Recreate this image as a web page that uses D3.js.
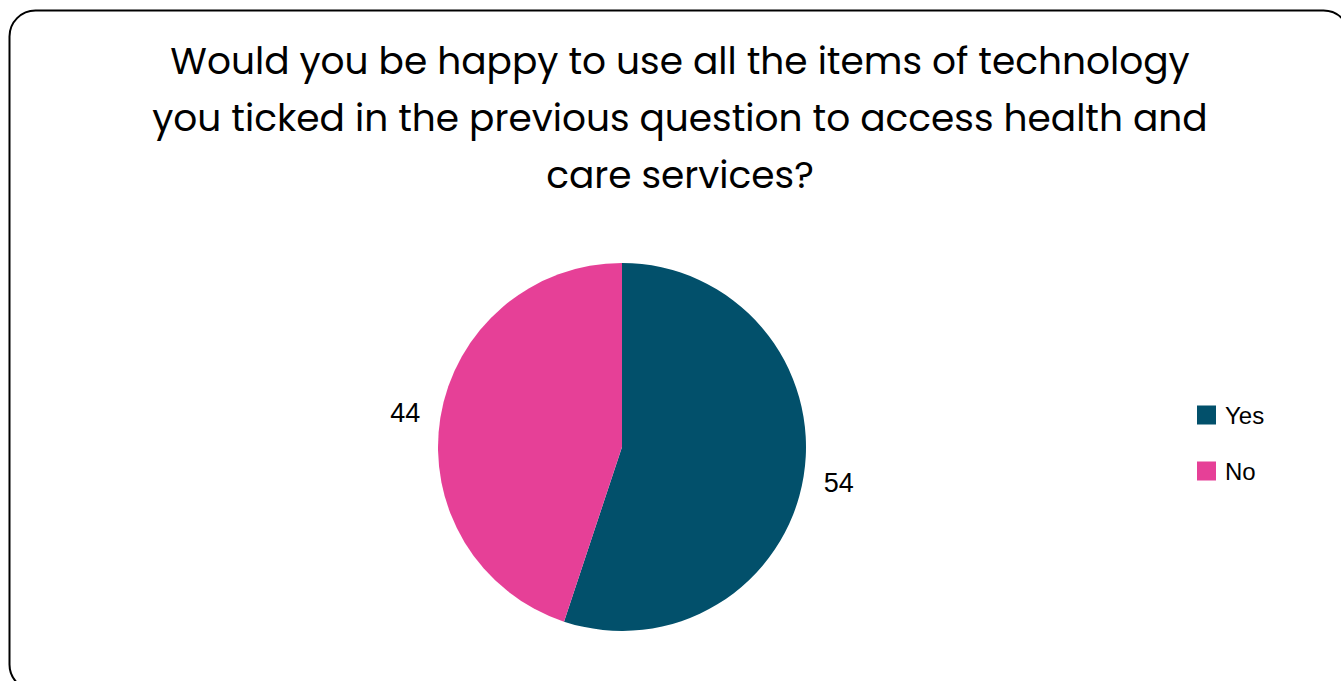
<!DOCTYPE html>
<html>
<head>
<meta charset="utf-8">
<script src="https://cdn.jsdelivr.net/npm/d3@7"></script>
<style>
  body { margin: 0; background: #fff; }
  svg { display: block; font-family: "Poppins", "Lato", "Open Sans", sans-serif; }
</style>
</head>
<body>
<svg width="1341" height="681"></svg>
<script>
var categories = ["Yes", "No"];
var values = [54, 44];
var colors = ["#02506B", "#E64097"];
var titleLines = [
  "Would you be happy to use all the items of technology",
  "you ticked in the previous question to access health and",
  "care services?"
];

var svg = d3.select("svg"),
    width = +svg.attr("width"),
    height = +svg.attr("height");

// rounded frame, runs off the right and bottom edges
svg.append("rect")
    .attr("x", 9.5).attr("y", 10.5)
    .attr("width", 1340).attr("height", 680)
    .attr("rx", 26).attr("ry", 26)
    .style("fill", "#fff")
    .style("stroke", "#000")
    .style("stroke-width", 2);

svg.append("g").selectAll("text")
    .data(titleLines)
    .enter().append("text")
    .attr("x", 680)
    .attr("y", function(d, i) { return 74 + i * 57; })
    .attr("text-anchor", "middle")
    .style("font-size", "37.5px")
    .style("fill", "#000")
    .text(function(d) { return d; });

var cx = 622, cy = 447, r = 184;

var color = d3.scaleOrdinal().domain(categories).range(colors);

var pie = d3.pie().sort(null).value(function(d) { return d.value; });
var data = categories.map(function(c, i) { return { name: c, value: values[i] }; });
var arcs = pie(data);

var arc = d3.arc().innerRadius(0).outerRadius(r);
var labelArc = d3.arc().innerRadius(r + 35.5).outerRadius(r + 35.5);

var g = svg.append("g").attr("transform", "translate(" + cx + "," + cy + ")");

g.selectAll("path")
    .data(arcs)
    .enter().append("path")
    .attr("d", arc)
    .style("fill", function(d) { return color(d.data.name); });

g.selectAll(".label")
    .data(arcs)
    .enter().append("text")
    .attr("class", "label")
    .attr("transform", function(d) { var p = labelArc.centroid(d); return "translate(" + p[0] + "," + p[1] + ")"; })
    .attr("text-anchor", "middle")
    .attr("dy", "0.36em")
    .style("font-family", "'Liberation Sans', Arial, sans-serif")
    .style("font-size", "27px")
    .style("fill", "#000")
    .text(function(d) { return d.data.value; });

var legend = svg.append("g")
    .selectAll("g")
    .data(categories)
    .enter().append("g")
    .attr("transform", function(d, i) { return "translate(1197," + (405.5 + i * 56) + ")"; });

legend.append("rect")
    .attr("width", 19).attr("height", 19)
    .style("fill", function(d) { return color(d); });

legend.append("text")
    .attr("x", 28).attr("y", 18.5)
    .style("font-family", "'Liberation Sans', Arial, sans-serif")
    .style("font-size", "24px")
    .style("fill", "#000")
    .text(function(d) { return d; });
</script>
</body>
</html>
